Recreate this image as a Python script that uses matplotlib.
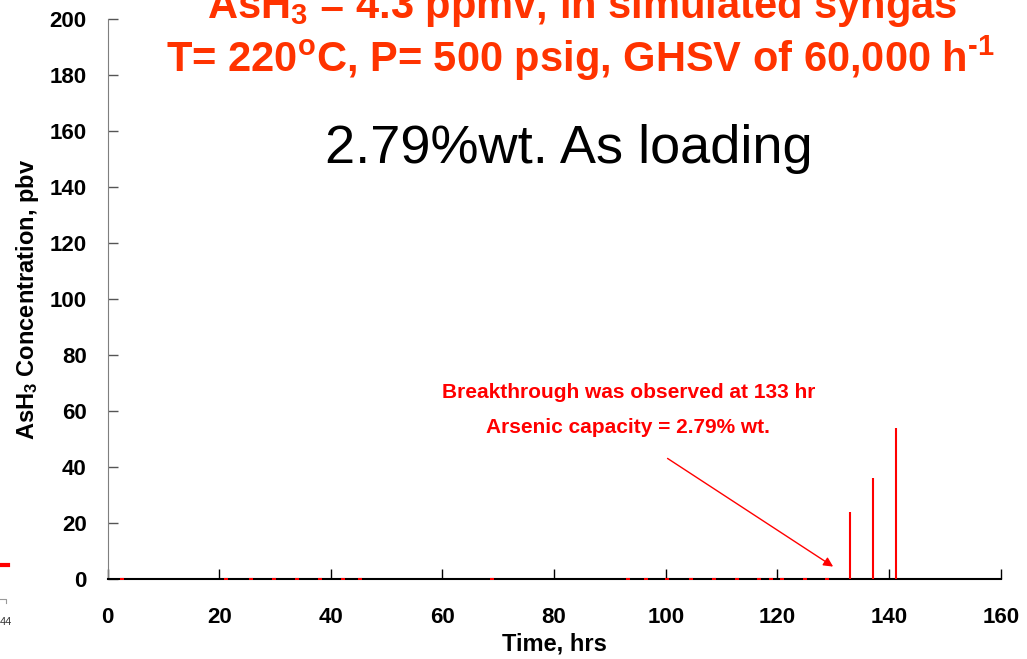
import matplotlib.pyplot as plt
import numpy as np

plt.rcParams['font.family'] = ['Liberation Sans', 'DejaVu Sans']
plt.rcParams['mathtext.fontset'] = 'custom'
plt.rcParams['mathtext.rm'] = 'Liberation Sans:bold'
plt.rcParams['mathtext.bf'] = 'Liberation Sans:bold'
plt.rcParams['mathtext.it'] = 'Liberation Sans:bold'

# sampling times (hrs) and AsH3 outlet concentration (pbv)
time_hrs = [2.6, 21.2, 25.7, 29.8, 33.9, 38.1, 42.1, 45.3, 68.8, 93.2, 96.5, 100.3,
            104.5, 108.7, 112.7, 116.7, 118.9, 120.9, 124.9, 128.9, 133.0, 137.2, 141.2]
ash3_pbv = [0, 0, 0, 0, 0, 0, 0, 0, 0, 0, 0, 0,
            0, 0, 0, 0, 0, 0, 0, 0, 24, 36, 54]
xticks = list(range(0, 161, 20))
yticks = list(range(0, 201, 20))

title_color = '#FF3300'

fig = plt.figure(figsize=(10.27, 6.59), dpi=100)
ax = fig.add_axes([0.1047, 0.1209, 0.8697, 0.8503])

t = np.array(time_hrs)
c = np.array(ash3_pbv)
ax.vlines(t, 0, c, color='red', lw=1.5, zorder=3)
ax.plot(t[c == 0], c[c == 0], ls='none', marker='_', ms=3, mew=1.5, color='red', zorder=3)

ax.set_xlim(0, 160)
ax.set_ylim(0, 200)
ax.set_xticks(xticks)
ax.set_yticks(yticks)
ax.tick_params(direction='in', length=7, width=1, labelsize=16)
ax.tick_params(axis='y', pad=15, colors='#555555', labelcolor='black')
ax.tick_params(axis='x', pad=20)
for lab in ax.get_xticklabels() + ax.get_yticklabels():
    lab.set_fontweight('bold')
ax.spines['top'].set_visible(False)
ax.spines['right'].set_visible(False)
ax.spines['left'].set_color('#7f7f7f')
ax.spines['bottom'].set_color('black')
ax.spines['bottom'].set_linewidth(1.5)

ax.set_xlabel('Time, hrs', fontsize=17, fontweight='bold', labelpad=3)
ax.set_ylabel(r'AsH$_3$ Concentration, pbv', fontsize=17, fontweight='bold', labelpad=6)

# breakthrough annotation
ax.text(93.3, 64.75, 'Breakthrough was observed at 133 hr', color='red',
        fontsize=15, fontweight='bold', ha='center', va='baseline')
ax.text(93.3, 52.4, 'Arsenic capacity = 2.79% wt.', color='red',
        fontsize=15, fontweight='bold', ha='center', va='baseline')
ax.annotate('', xy=(130.4, 4), xytext=(99.9, 43.7),
            arrowprops=dict(arrowstyle='-|>', color='red', lw=1, mutation_scale=14))

ax.text(82.7, 148.7, '2.79%wt. As loading', fontsize=39, ha='center', va='baseline')

# slide title
fig.text(0.567, 1 - 18 / 659, r'AsH$_3$ = 4.3 ppmv, in simulated syngas', color=title_color,
         fontsize=30, fontweight='bold', ha='center', va='baseline')
fig.text(0.565, 1 - 72 / 659, 'T= 220$^{\\mathrm{o}}$C, P= 500 psig, GHSV of 60,000 h$^{\u2010\\mathrm{1}}$',
         color=title_color, fontsize=30, fontweight='bold', ha='center', va='baseline')

# slide page number and edge marks
fig.text(0.0, 1 - 622 / 659, '44', fontsize=8, color='#333333', va='center')
fig.add_artist(plt.Line2D([0, 0.008], [1 - 565 / 659, 1 - 565 / 659], color='red', lw=3))
fig.add_artist(plt.Line2D([0, 0.006, 0.006], [1 - 599 / 659, 1 - 599 / 659, 1 - 603 / 659],
                          color='#999999', lw=0.8))

fig.savefig('out.png', dpi=100)
